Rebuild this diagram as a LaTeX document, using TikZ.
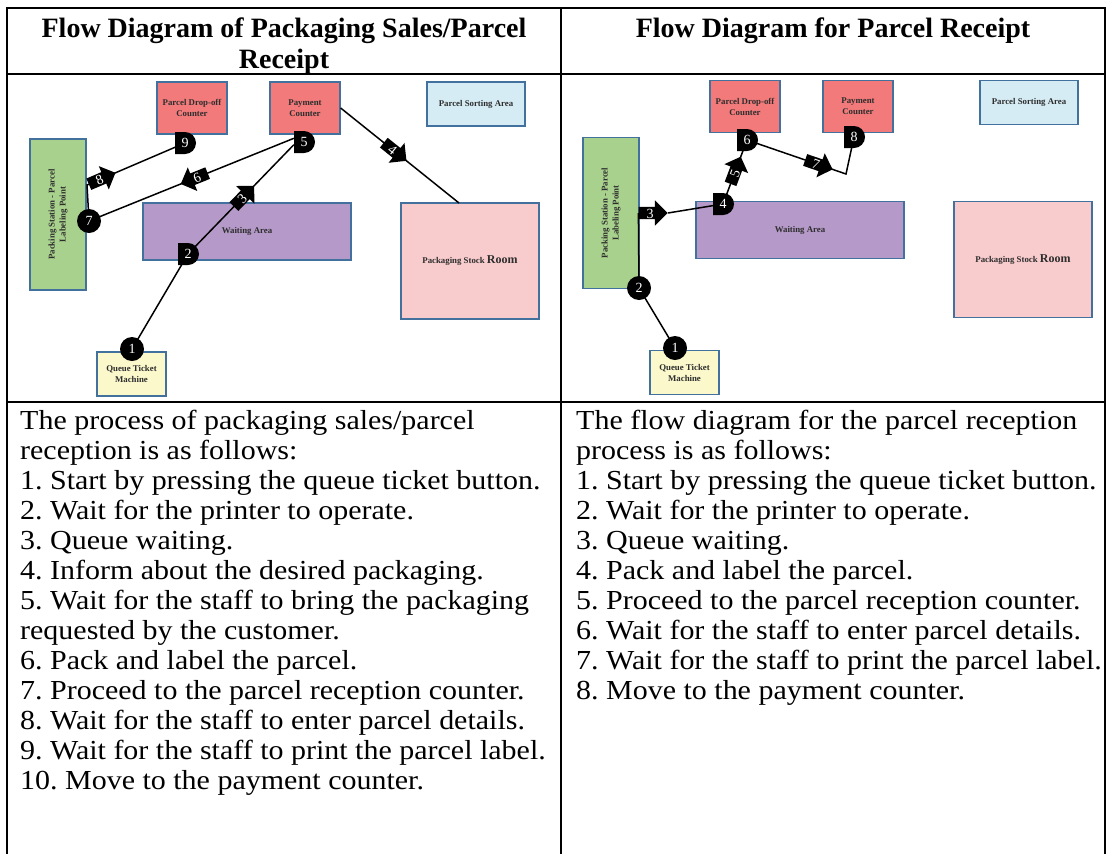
\documentclass[tikz,border=0pt]{standalone}
\usepackage{fontspec}
\setmainfont{Liberation Serif}
\newfontfamily\bodyfam[FakeStretch=1.09]{Liberation Serif}
\usetikzlibrary{shapes.arrows,shapes.misc}
\pgfdeclarelayer{bg}
\pgfdeclarelayer{edges}
\pgfsetlayers{bg,edges,main}
\definecolor{roomred}{RGB}{242,122,122}
\definecolor{roomsky}{RGB}{214,236,244}
\definecolor{roomgreen}{RGB}{169,209,142}
\definecolor{roompurple}{RGB}{181,153,200}
\definecolor{roompink}{RGB}{248,203,205}
\definecolor{roomyellow}{RGB}{251,248,204}
\definecolor{roomedge}{RGB}{65,113,156}
\definecolor{labelgray}{RGB}{45,45,45}
\newcommand\mkrfont{\fontsize{14}{14}\selectfont}
\newcommand\roomfont{\fontsize{8.8}{11}\selectfont\bfseries}
\newcommand\bodyfont{\bodyfam\fontsize{27.5}{30}\selectfont\frenchspacing}
\newcommand\headfont{\fontsize{28}{31}\selectfont\bfseries}
\tikzset{
  tbl/.style={line width=1.6pt, black},
  room/.style={draw=roomedge, line width=1.3pt, inner sep=1pt, align=center, font=\roomfont, text=labelgray},
  flow/.style={line width=1.5pt, black},
  cmark/.style={circle, fill=black, text=white, font=\mkrfont, minimum size=24pt, inner sep=0pt},
  dmark/.style={rounded rectangle, rounded rectangle west arc=none, fill=black, text=white, font=\mkrfont, minimum height=22pt, minimum width=20pt, inner sep=0pt},
  amark/.style={single arrow, fill=black, text=white, font=\mkrfont, single arrow head extend=6.5pt, minimum height=29pt, inner xsep=1pt, inner ysep=1pt, text height=10pt, text depth=0pt, allow upside down},
  amarkback/.style={amark, shape border rotate=180, allow upside down=false},
}
\newcommand\roomset[1]{%
  \node[room, fill=roomred, minimum width=70pt, minimum height=52pt] (drop#1) at (192,108) {Parcel Drop-off\\Counter};
  \node[room, fill=roomred, minimum width=70pt, minimum height=52pt] (pay#1) at (305,108) {Payment\\Counter};
  \node[room, fill=roomsky, minimum width=98pt, minimum height=44pt] (sort#1) at (476,104) {Parcel Sorting Area};
  \node[room, fill=roomgreen, rotate=90, minimum width=151pt, minimum height=56pt] (pack#1) at (58,214.5) {Packing Station - Parcel\\Labeling Point};
  \node[room, fill=roompurple, minimum width=208pt, minimum height=57pt] (wait#1) at (247,231.5) {Waiting Area};
  \node[room, fill=roompink, minimum width=138pt, minimum height=116pt] (stock#1) at (470,261) {Packaging Stock {\fontsize{12}{12}\selectfont Room}};
  \node[room, fill=roomyellow, minimum width=69pt, minimum height=44pt] (queue#1) at (131.5,374) {Queue Ticket\\Machine};
}
\begin{document}
\begin{tikzpicture}[x=1pt,y=-1pt]
\useasboundingbox (0,0) rectangle (1107,854);
% table frame
\draw[tbl] (7,854) -- (7,8) -- (1105,8) -- (1105,854);
\draw[tbl] (561,8) -- (561,854);
\draw[tbl] (7,74) -- (1105,74);
\draw[tbl] (7,402) -- (1105,402);
% headers
\node[anchor=base, inner sep=0pt] (headL) at (284,37) {\parbox[t]{540pt}{\centering\headfont Flow Diagram of Packaging Sales/Parcel\\Receipt}};
\node[anchor=base, inner sep=0pt] (headR) at (833,37) {\parbox[t]{540pt}{\centering\headfont Flow Diagram for Parcel Receipt}};
% rooms
\begin{pgfonlayer}{bg}
\roomset{L}
\begin{scope}[shift={(553,-1.5)}]
\roomset{R}
\end{scope}
\end{pgfonlayer}
% left markers
\node[cmark] (l1) at (132,349) {1};
\node[dmark] (l2) at (188,254) {2};
\node[dmark] (l5) at (304,142) {5};
\node[cmark] (l7) at (89,221) {7};
\node[dmark] (l9) at (185,143) {9};
\coordinate (l8c) at (87,185);
\coordinate (l4s) at (459,203);
\path (l2) -- (l5.195) node[amark, sloped, pos=.47] (l3) {3};
\path (l5.160) -- (l7) node[amarkback, sloped, pos=.5] (l6) {6};
\path (l8c) -- (l9) node[amark, sloped, pos=.14] (l8) {8};
\path (payL.east) -- (l4s) node[amark, sloped, pos=.44] (l4) {4};
% right markers
\node[cmark] (r1) at (675,348) {1};
\node[cmark] (r2) at (639,288) {2};
\node[amark] (r3) at (650,213) {3};
\node[dmark] (r4) at (723,204) {4};
\node[dmark] (r6) at (747,140) {6};
\node[dmark] (r8) at (854,137) {8};
\coordinate (r7c) at (846,174);
\path (r4) -- (r6) node[amark, sloped, pos=.48] (r5) {5};
\path (r6) -- (r7c) node[amark, sloped, pos=.66] (r7) {7};
% connectors
\begin{pgfonlayer}{edges}
\draw[flow] (l1.center) -- (l2.center) -- (l5.195);
\draw[flow] (l5.160) -- (l7.center) -- (l8c) -- (l9.center);
\draw[flow] (payL.east) -- (l4s);
\draw[flow] (r1.center) -- (r2.center) -- (r3.tail);
\draw[flow] (r3.tip) -- (r4.center) -- (r6.center) -- (r7c) -- (r8.center);
\end{pgfonlayer}
% body texts
\node[anchor=base west, inner sep=0pt] (txtL) at (20,429) {\parbox[t]{545pt}{\bodyfont
The process of packaging sales/parcel\\
reception is as follows:\\
1. Start by pressing the queue ticket button.\\
2. Wait for the printer to operate.\\
3. Queue waiting.\\
4. Inform about the desired packaging.\\
5. Wait for the staff to bring the packaging\\
requested by the customer.\\
6. Pack and label the parcel.\\
7. Proceed to the parcel reception counter.\\
8. Wait for the staff to enter parcel details.\\
9. Wait for the staff to print the parcel label.\\
10. Move to the payment counter.}};
\node[anchor=base west, inner sep=0pt] (txtR) at (576,429) {\parbox[t]{530pt}{\bodyfont
The flow diagram for the parcel reception\\
process is as follows:\\
1. Start by pressing the queue ticket button.\\
2. Wait for the printer to operate.\\
3. Queue waiting.\\
4. Pack and label the parcel.\\
5. Proceed to the parcel reception counter.\\
6. Wait for the staff to enter parcel details.\\
7. Wait for the staff to print the parcel label.\\
8. Move to the payment counter.}};
\end{tikzpicture}
\end{document}
